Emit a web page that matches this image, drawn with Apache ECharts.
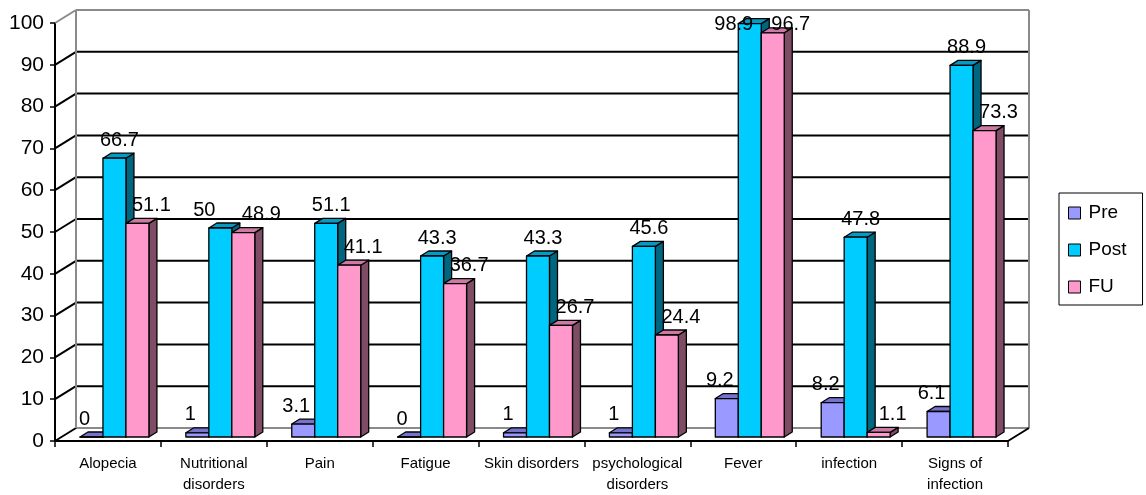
<!DOCTYPE html>
<html>
<head>
<meta charset="utf-8">
<script src="https://cdn.jsdelivr.net/npm/echarts@6/dist/echarts.min.js"></script>
<style>
  html, body { margin: 0; padding: 0; background: #fff; }
  #chart { width: 1146px; height: 495px; }
</style>
</head>
<body>
<div id="chart"></div>
<script>
// ---- data ----
const categories = ['Alopecia', 'Nutritional\ndisorders', 'Pain', 'Fatigue', 'Skin disorders',
  'psychological\ndisorders', 'Fever', 'infection', 'Signs of\ninfection'];
const seriesNames = ['Pre', 'Post', 'FU'];
const preValues  = [0, 1, 3.1, 0, 1, 1, 9.2, 8.2, 6.1];
const postValues = [66.7, 50, 51.1, 43.3, 43.3, 45.6, 98.9, 47.8, 88.9];
const fuValues   = [51.1, 48.9, 41.1, 36.7, 26.7, 24.4, 96.7, 1.1, 73.3];
const yTicks = [0, 10, 20, 30, 40, 50, 60, 70, 80, 90, 100];

// ---- styling ----
const FONT = '"Liberation Sans", Arial, sans-serif';
const faceColors = [
  { front: '#9999FF', top: '#7474CC', side: '#4C4C80' },
  { front: '#00CCFF', top: '#009CC6', side: '#006680' },
  { front: '#FF99CC', top: '#CC7AA3', side: '#7F4C66' }
];
const WALL_DX = 21, WALL_DY = -13;   // depth of the floor / side wall
const BAR_DX = 8, BAR_DY = -5;       // depth of each column
const BAR_FRAC = 0.217;              // column width as share of a category band
const labelDx = [-7, 5, 14];         // label nudge per series

const allValues = [preValues, postValues, fuValues];

function barGeom(api, cat, val, k) {
  const base = api.coord([cat, 0]);
  const top = api.coord([cat, val]);
  const band = api.size([1, 0])[0];
  const w = band * BAR_FRAC;
  const sx = (WALL_DX - BAR_DX) / 2, sy = (WALL_DY - BAR_DY) / 2;
  const x0 = base[0] - 1.5 * w + k * w + sx;
  return { x0: x0, w: w, yb: base[1] + sy, yt: top[1] + sy };
}

function makeBarRenderer(k) {
  const c = faceColors[k];
  return function (params, api) {
    const g = barGeom(api, api.value(0), api.value(1), k);
    const x1 = g.x0 + g.w;
    const edge = { stroke: '#000', lineWidth: 1.3, lineJoin: 'round' };
    return {
      type: 'group',
      children: [
        { type: 'polygon',
          shape: { points: [[x1, g.yt], [x1 + BAR_DX, g.yt + BAR_DY], [x1 + BAR_DX, g.yb + BAR_DY], [x1, g.yb]] },
          style: Object.assign({ fill: c.side }, edge) },
        { type: 'polygon',
          shape: { points: [[g.x0, g.yt], [x1, g.yt], [x1 + BAR_DX, g.yt + BAR_DY], [g.x0 + BAR_DX, g.yt + BAR_DY]] },
          style: Object.assign({ fill: c.top }, edge) },
        { type: 'rect',
          shape: { x: g.x0, y: g.yt, width: g.w, height: g.yb - g.yt },
          style: Object.assign({ fill: c.front }, edge) }
      ]
    };
  };
}

function renderLabel(params, api) {
  const i = api.value(0), v = api.value(1), k = api.value(2);
  const g = barGeom(api, i, v, k);
  let dx = labelDx[k];
  if (k > 0 && Math.abs(postValues[i] - fuValues[i]) < 5) dx = (k === 1) ? -16 : 18;
  const minY = api.coord([0, yTicks[yTicks.length - 1]])[1] + 1;
  return {
    type: 'text',
    style: {
      x: g.x0 + g.w / 2 + dx,
      y: Math.max(g.yt - 18, minY),
      text: String(v),
      fill: '#000',
      font: '20px ' + FONT,
      align: 'center',
      verticalAlign: 'middle'
    }
  };
}

function renderFrame(params, api) {
  const n = categories.length;
  const band = api.size([1, 0])[0];
  const xl = api.coord([0, 0])[0] - band / 2;
  const xr = api.coord([n - 1, 0])[0] + band / 2;
  const y0 = api.coord([0, yTicks[0]])[1];
  const yTop = api.coord([0, yTicks[yTicks.length - 1]])[1];
  const grey = { stroke: '#8a8a8a', lineWidth: 2 };
  const black = { stroke: '#000', lineWidth: 2 };
  const children = [];
  yTicks.forEach(function (t, idx) {
    const y = api.coord([0, t])[1];
    const outer = idx === 0 || idx === yTicks.length - 1;
    children.push({ type: 'line',
      shape: { x1: xl + WALL_DX, y1: y + WALL_DY, x2: xr + WALL_DX, y2: y + WALL_DY },
      style: outer ? grey : black });
    children.push({ type: 'line',
      shape: { x1: xl, y1: y, x2: xl + WALL_DX, y2: y + WALL_DY },
      style: idx === yTicks.length - 1 ? grey : black });
  });
  children.push({ type: 'line',
    shape: { x1: xl + WALL_DX, y1: yTop + WALL_DY, x2: xl + WALL_DX, y2: y0 + WALL_DY }, style: grey });
  children.push({ type: 'line',
    shape: { x1: xr + WALL_DX, y1: yTop + WALL_DY, x2: xr + WALL_DX, y2: y0 + WALL_DY }, style: grey });
  children.push({ type: 'line',
    shape: { x1: xr, y1: y0, x2: xr + WALL_DX, y2: y0 + WALL_DY }, style: black });
  return { type: 'group', children: children };
}

const labelData = [];
allValues.forEach(function (arr, k) {
  arr.forEach(function (v, i) { labelData.push([i, v, k]); });
});

const barSeries = allValues.map(function (arr, k) {
  return {
    name: seriesNames[k],
    type: 'custom',
    coordinateSystem: 'cartesian2d',
    z: 2,
    clip: false,
    itemStyle: { color: faceColors[k].front, borderColor: '#000', borderWidth: 1 },
    renderItem: makeBarRenderer(k),
    data: arr.map(function (v, i) { return [i, v]; })
  };
});

const chart = echarts.init(document.getElementById('chart'), null, { renderer: 'canvas' });
chart.setOption({
  animation: false,
  backgroundColor: '#fff',
  textStyle: { fontFamily: FONT },
  grid: { left: 55, right: 138, top: 23, bottom: 54, containLabel: false },
  legend: {
    data: seriesNames,
    orient: 'vertical',
    left: 1059,
    top: 193,
    icon: 'rect',
    itemWidth: 12,
    itemHeight: 12,
    itemGap: 17,
    padding: [10, 16, 8, 9],
    borderColor: '#000',
    borderWidth: 1,
    itemStyle: { borderColor: '#000', borderWidth: 1 },
    textStyle: { fontSize: 19, fontFamily: FONT, color: '#000', lineHeight: 20, padding: [0, 0, 0, 3] }
  },
  xAxis: {
    type: 'category',
    data: categories,
    boundaryGap: true,
    axisLine: { show: true, lineStyle: { color: '#000', width: 2 } },
    axisTick: { show: true, length: 6, lineStyle: { color: '#000', width: 1.5 } },
    axisLabel: { interval: 0, fontSize: 15, color: '#000', fontFamily: FONT, margin: 12, lineHeight: 21 },
    splitLine: { show: false }
  },
  yAxis: {
    type: 'value',
    min: yTicks[0],
    max: yTicks[yTicks.length - 1],
    interval: 10,
    axisLine: { show: true, lineStyle: { color: '#000', width: 2 } },
    axisTick: { show: true, length: 5, lineStyle: { color: '#000', width: 1.5 } },
    axisLabel: { fontSize: 21, color: '#000', fontFamily: FONT, margin: 11 },
    splitLine: { show: false }
  },
  series: [
    {
      name: 'frame',
      type: 'custom',
      coordinateSystem: 'cartesian2d',
      z: 1,
      silent: true,
      clip: false,
      renderItem: renderFrame,
      data: [[0, 0]]
    }
  ].concat(barSeries).concat([
    {
      name: 'labels',
      type: 'custom',
      coordinateSystem: 'cartesian2d',
      z: 3,
      silent: true,
      clip: false,
      renderItem: renderLabel,
      data: labelData
    }
  ])
});
</script>
</body>
</html>
